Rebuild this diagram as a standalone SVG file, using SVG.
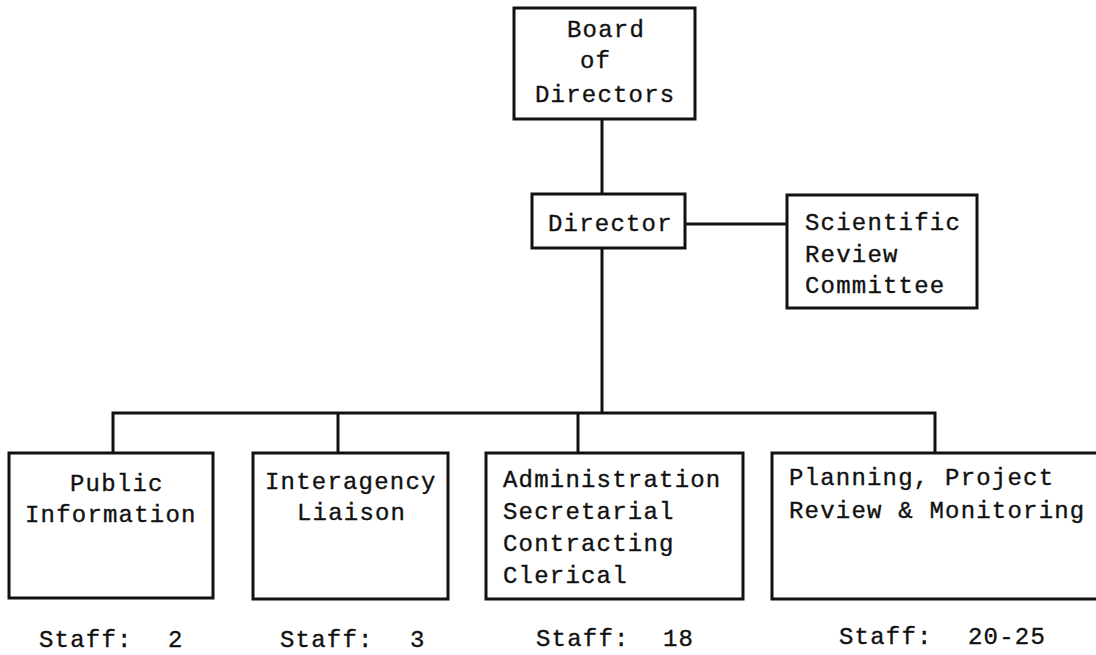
<svg xmlns="http://www.w3.org/2000/svg" width="1096" height="655" viewBox="0 0 1096 655">
<style>
.box{fill:#fff;stroke:#111;stroke-width:3}
.ln{fill:none;stroke:#111;stroke-width:3}
text{font-family:"Liberation Mono","DejaVu Sans Mono",monospace;font-size:24px;letter-spacing:1.2px;fill:#111;stroke:#111;stroke-width:0.35px}
</style>
<rect width="1096" height="655" fill="#fff"/>
<g id="connectors">
<line class="ln" x1="602" y1="119" x2="602" y2="195"/>
<line class="ln" x1="602" y1="247" x2="602" y2="413"/>
<line class="ln" x1="685" y1="224" x2="787" y2="224"/>
<polyline class="ln" points="113,453 113,413 935,413 935,453"/>
<line class="ln" x1="338" y1="413" x2="338" y2="453"/>
<line class="ln" x1="578" y1="413" x2="578" y2="453"/>
</g>
<g id="board">
<rect class="box" x="514" y="8" width="181" height="111"/>
<text x="567" y="37">Board</text>
<text x="580" y="68">of</text>
<text x="535" y="102">Directors</text>
</g>
<g id="director">
<rect class="box" x="532" y="194" width="153" height="54"/>
<text x="548" y="231">Director</text>
</g>
<g id="scientific">
<rect class="box" x="787" y="195" width="190" height="113"/>
<text x="805" y="230">Scientific</text>
<text x="805" y="262">Review</text>
<text x="805" y="293">Committee</text>
</g>
<g id="public">
<rect class="box" x="9" y="453" width="204" height="145"/>
<text x="70" y="491">Public</text>
<text x="25" y="522">Information</text>
<text x="39" y="647">Staff:<tspan x="168">2</tspan></text>
</g>
<g id="interagency">
<rect class="box" x="253" y="453" width="195" height="146"/>
<text x="265" y="489">Interagency</text>
<text x="297" y="520">Liaison</text>
<text x="280" y="647">Staff:<tspan x="410">3</tspan></text>
</g>
<g id="administration">
<rect class="box" x="486" y="453" width="257" height="146"/>
<text x="503" y="487">Administration</text>
<text x="503" y="519">Secretarial</text>
<text x="503" y="551">Contracting</text>
<text x="503" y="583">Clerical</text>
<text x="536" y="646">Staff:<tspan x="663">18</tspan></text>
</g>
<g id="planning">
<rect class="box" x="772" y="453" width="330" height="146"/>
<text x="789" y="485">Planning, Project</text>
<text x="789" y="518">Review &amp; Monitoring</text>
<text x="839" y="644">Staff:<tspan x="968">20-25</tspan></text>
</g>
</svg>
